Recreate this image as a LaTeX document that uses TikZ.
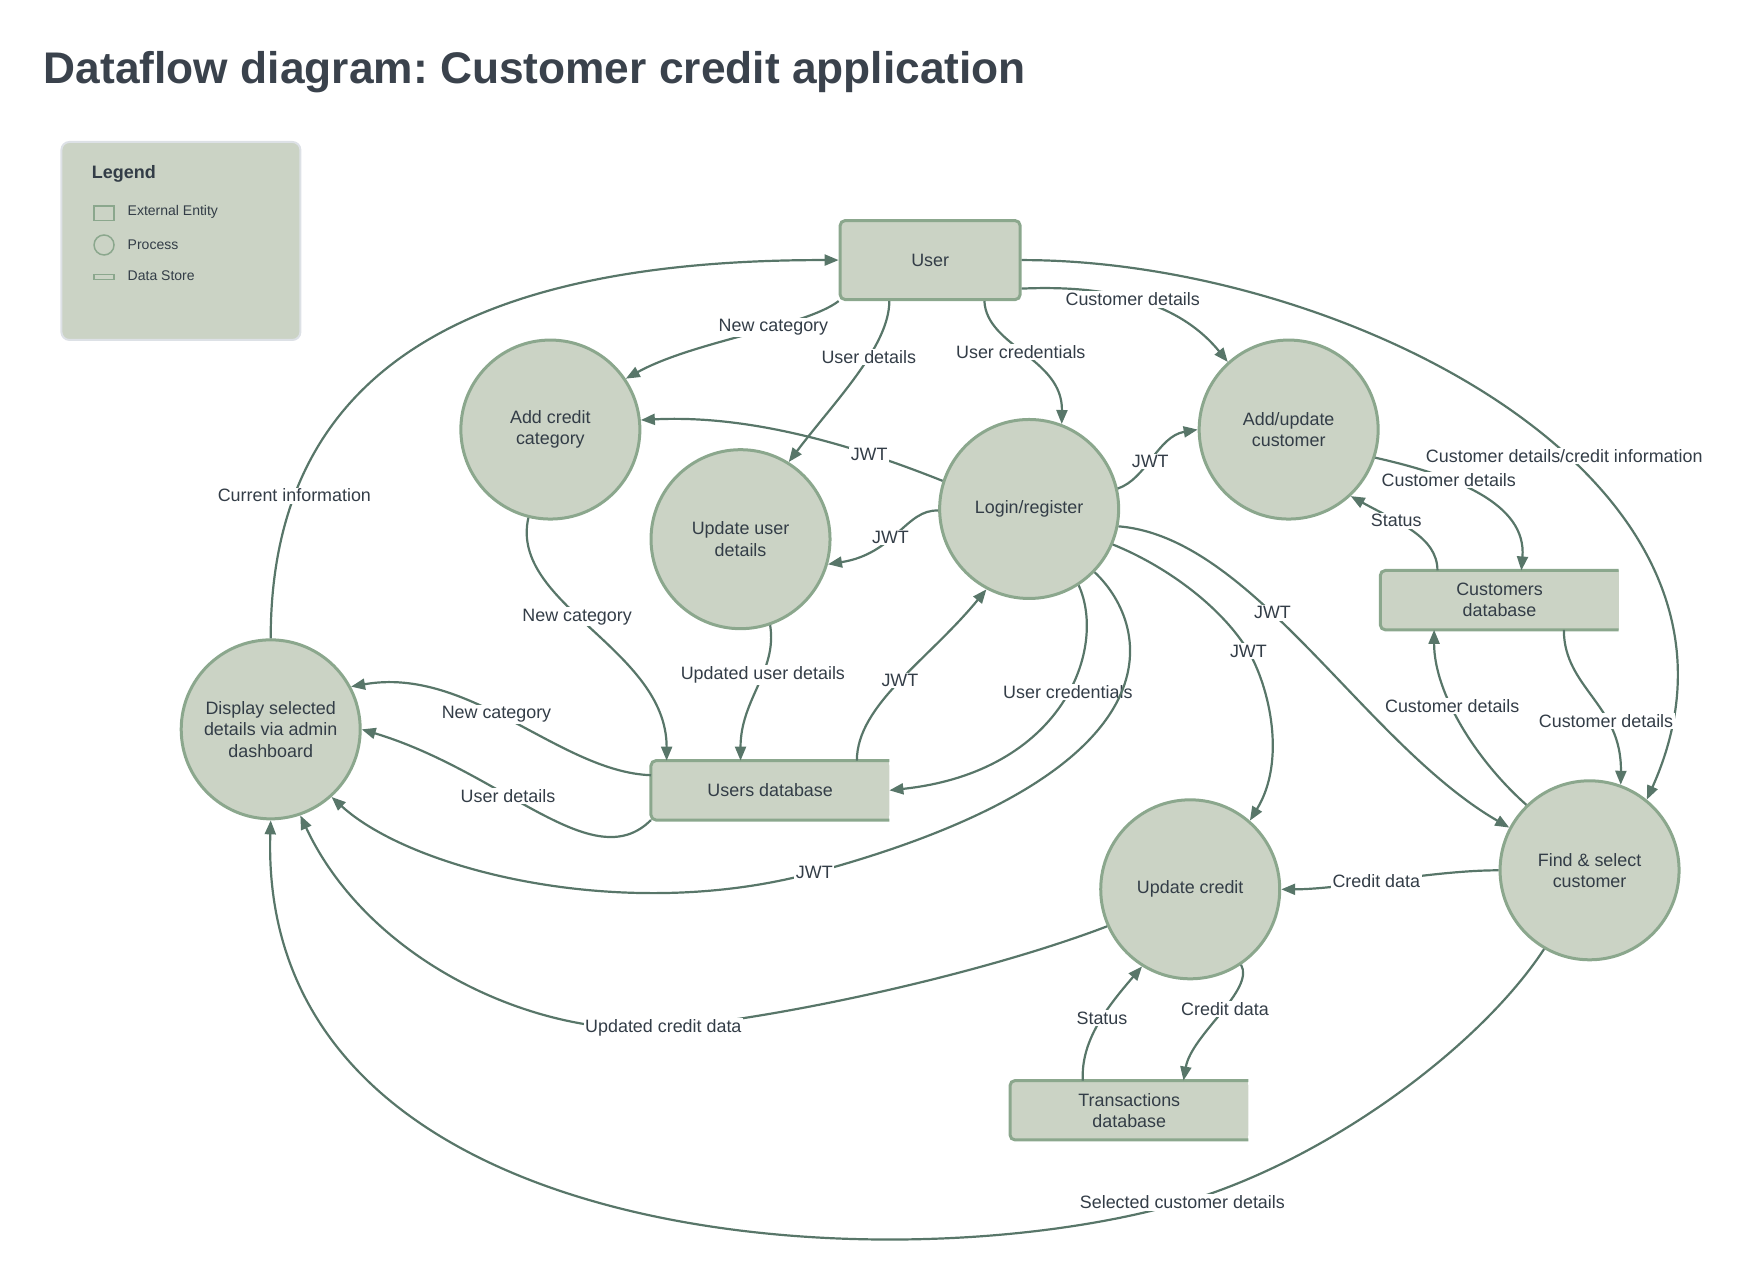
\documentclass[tikz,border=0pt]{standalone}
\usepackage{fontspec}
\setmainfont{Liberation Sans}
\frenchspacing
\usetikzlibrary{arrows.meta,backgrounds}

\definecolor{sage}{RGB}{203,211,197}
\definecolor{sageline}{RGB}{139,167,141}
\definecolor{flowcol}{RGB}{88,118,105}
\definecolor{inkcol}{RGB}{51,61,71}
\definecolor{titlecol}{RGB}{58,66,76}
\definecolor{legendline}{RGB}{221,225,230}

\tikzset{
  every node/.style={text=inkcol},
  process/.style={circle, fill=sage, draw=sageline, line width=3pt, minimum size=179pt, inner sep=0pt, align=center, font=\fontsize{17.9}{21.3}\selectfont},
  entity/.style={rectangle, rounded corners=5pt, fill=sage, draw=sageline, line width=3pt, minimum width=180pt, minimum height=79pt, font=\fontsize{17.9}{21.3}\selectfont},
  store/.style={rectangle, minimum width=238pt, minimum height=59pt, align=center, font=\fontsize{17.9}{21.3}\selectfont},
  storeedge/.style={draw=sageline, line width=3pt, rounded corners=5pt},
  flow/.style={draw=flowcol, line width=2.2pt, -{Triangle[length=14pt,width=11pt]}},
  lbl/.style={fill=white, inner sep=1.5pt, font=\fontsize{17.9}{21.3}\selectfont},
  keytext/.style={anchor=west, inner sep=0pt, font=\fontsize{14}{16}\selectfont},
  keyicon/.style={draw=sageline, line width=1.5pt, inner sep=0pt},
}

\begin{document}
\begin{tikzpicture}[x=1.1186pt, y=-1.1186pt]
  \useasboundingbox (0,0) rectangle (1568,1151);

  \node[anchor=base west, inner sep=0pt, text=titlecol, font=\fontsize{44.3}{50}\selectfont\bfseries] (title) at (39,75) {Dataflow diagram: Customer credit application};

  \node[anchor=north west, draw=legendline, fill=sage, line width=2pt, rounded corners=8pt, minimum width=239pt, minimum height=198pt] (legend) at (54,126) {};
  \node[anchor=west, inner sep=0pt, font=\fontsize{18}{21}\selectfont\bfseries] (legendtitle) at (82,155) {Legend};
  \node[keyicon, minimum width=20pt, minimum height=14.5pt] (keyentity) at (93,190.5) {};
  \node[keytext] (keyentitytext) at (114,189.5) {External Entity};
  \node[keyicon, circle, minimum size=20pt] (keyprocess) at (93,219) {};
  \node[keytext] (keyprocesstext) at (114,218.5) {Process};
  \node[keyicon, minimum width=20pt, minimum height=5pt] (keystore) at (93,247.5) {};
  \node[keytext] (keystoretext) at (114,246.5) {Data Store};

  \node[entity] (user) at (831.5,232.5) {User};
  \node[process] (addcat) at (492,384) {Add credit\\category};
  \node[process] (upduser) at (662,482) {Update user\\details};
  \node[process] (login) at (920,455) {Login/register};
  \node[process] (addcust) at (1152,384) {Add/update\\customer};
  \node[process] (display) at (242,652) {Display selected\\details via admin\\dashboard};
  \node[process] (updcredit) at (1064,795) {Update credit};
  \node[process] (findcust) at (1421,778) {Find \& select\\customer};
  \node[store] (usersdb) at (688.5,706.5) {Users database};
  \node[store] (custdb) at (1340.5,536.5) {Customers\\database};
  \node[store] (transdb) at (1009.5,992.5) {Transactions\\database};

  \begin{scope}[on background layer]
    \foreach \s in {usersdb,custdb,transdb}{
      \fill[sage, rounded corners=5pt] (\s.south west) rectangle (\s.north east);
      \fill[sage] (\s.south) rectangle (\s.north east);
    }
  \end{scope}
  \foreach \s in {usersdb,custdb,transdb}
    \draw[storeedge] (\s.north east) -- (\s.north west) -- (\s.south west) -- (\s.south east);

  \draw[flow] (display.north) .. controls (242,330) and (420,232) .. node[lbl,pos=0.2] {Current information} (user.west);
  \draw[flow] (user.south west) .. controls (720,292) and (620,305) .. node[lbl,pos=0.38] {New category} (addcat.34);
  \draw[flow] ([shift={(-36.5,0)}]user.south) .. controls (795,310) and (745,360) .. node[lbl,pos=0.38] {User details} (upduser.58);
  \draw[flow] ([shift={(48.5,0)}]user.south) .. controls (882,310) and (950,320) .. node[lbl,pos=0.47] {User credentials} (login.69);
  \draw[flow] ([shift={(0,25.5)}]user.east) .. controls (980,255) and (1050,265) .. node[lbl,pos=0.5] {Customer details} (addcust.132);
  \draw[flow] (user.east) .. controls (1200,232) and (1600,430) .. node[lbl,pos=0.575] {Customer details/credit information} (findcust.51);

  \draw[flow] (login.162) .. controls (780,405) and (680,370) .. node[lbl,pos=0.3] {JWT} (addcat.6);
  \draw[flow] (login.181) .. controls (810,455) and (800,495) .. node[lbl,pos=0.56] {JWT} (upduser.-16);
  \draw[flow] (login.13) .. controls (1025,428) and (1035,390) .. node[lbl,pos=0.45] {JWT} (addcust.west);
  \draw[flow] (login.-57) .. controls (990,580) and (950,690) .. node[lbl,pos=0.45] {User credentials} (usersdb.east);
  \draw[flow] (login.-44) .. controls (1030,560) and (1060,690) .. (728,780) node[lbl] {JWT} .. controls (558,826) and (368,778) .. (display.-48);
  \draw[flow] (login.-11) .. controls (1120,480) and (1220,665) .. node[lbl,pos=0.4] {JWT} (findcust.152);
  \draw[flow] (login.-23) .. controls (1040,505) and (1090,540) .. (1116,582) node[lbl] {JWT} .. controls (1135,615) and (1150,680) .. (updcredit.49);

  \draw[flow] (addcat.-104) .. controls (455,540) and (596,580) .. node[lbl,pos=0.44] {New category} ([shift={(14,0)}]usersdb.north west);
  \draw[flow] (upduser.-71) .. controls (695,600) and (662,625) .. node[lbl,pos=0.4] {Updated user details} ([shift={(-26.5,0)}]usersdb.north);
  \draw[flow] ([shift={(77.5,0)}]usersdb.north) .. controls (766,630) and (830,590) .. node[lbl,pos=0.5] {JWT} (login.-118);
  \draw[flow] ([shift={(0,-13.5)}]usersdb.west) .. controls (500,690) and (420,595) .. node[lbl,pos=0.55] {New category} (display.28);
  \draw[flow] (usersdb.south west) .. controls (530,785) and (450,690) .. node[lbl,pos=0.6] {User details} (display.east);

  \draw[flow] (addcust.-18) .. controls (1300,425) and (1365,450) .. node[lbl,pos=0.33] {Customer details} ([shift={(19.5,0)}]custdb.north);
  \draw[flow] ([shift={(-55.5,0)}]custdb.north) .. controls (1285,480) and (1250,467) .. node[lbl,pos=0.65] {Status} (addcust.-47);
  \draw[flow] (findcust.134) .. controls (1320,680) and (1282,620) .. node[lbl,pos=0.6] {Customer details} ([shift={(-58.5,0)}]custdb.south);
  \draw[flow] ([shift={(57.5,0)}]custdb.south) .. controls (1398,615) and (1450,630) .. node[lbl,pos=0.66] {Customer details} (findcust.70);

  \draw[flow] (findcust.west) .. controls (1280,778) and (1200,795) .. node[lbl,pos=0.55] {Credit data} (updcredit.east);
  \draw[flow] (findcust.-120) .. controls (1320,940) and (1180,1040) .. (1057,1075) node[lbl] {Selected customer details} .. controls (800,1150) and (230,1120) .. (display.south);
  \draw[flow] (updcredit.204) .. controls (880,870) and (700,910) .. (593,919) node[lbl] {Updated credit data} .. controls (480,928) and (330,860) .. (display.-71);
  \draw[flow] ([shift={(-41.5,0)}]transdb.north) .. controls (966,930) and (990,900) .. node[lbl,pos=0.55] {Status} (updcredit.-122);
  \draw[flow] (updcredit.-56) .. controls (1122,885) and (1065,925) .. node[lbl,pos=0.45] {Credit data} ([shift={(48.5,0)}]transdb.north);
\end{tikzpicture}
\end{document}
